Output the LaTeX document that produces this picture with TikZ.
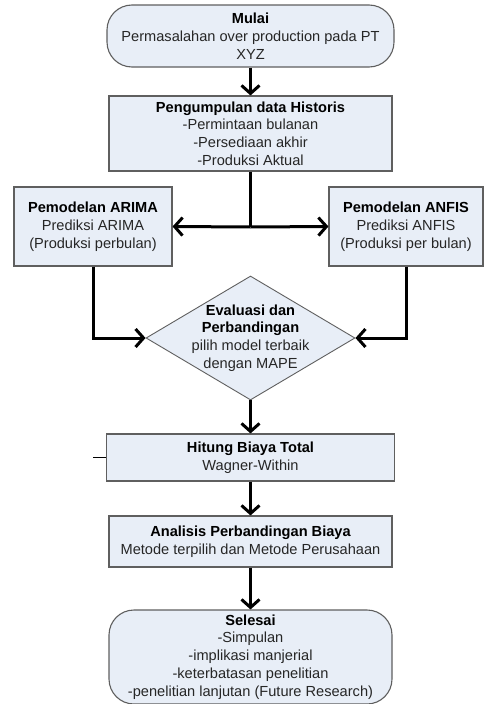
\documentclass[tikz,border=0pt]{standalone}
\usepackage{fontspec}
\setmainfont{Liberation Sans}
\usetikzlibrary{arrows.meta,shapes.geometric}
\definecolor{boxfill}{RGB}{232,238,247}
\definecolor{boxline}{RGB}{95,95,95}
\definecolor{bodytext}{RGB}{38,38,38}
\begin{document}
\begin{tikzpicture}[x=1pt,y=-1pt,
  font=\fontsize{14.6pt}{17.8pt}\selectfont,
  box/.style={draw=boxline,line width=1.1pt,fill=boxfill,rectangle,inner sep=0pt,align=center,text=bodytext},
  roundbox/.style={box,rounded corners=25pt},
  dia/.style={draw=boxline,line width=0.9pt,fill=boxfill,diamond,inner sep=0pt},
  conn/.style={line width=3pt,black},
  arr/.style={conn,-{Straight Barb[length=8pt,width=18pt]}},
]
\useasboundingbox (0,0) rectangle (484,704);

\node[roundbox,minimum width=287pt,minimum height=62pt] (mulai) at (250.5,36)
  {\textbf{\color{black}Mulai}\\Permasalahan over production pada PT\\XYZ};
\node[box,minimum width=283pt,minimum height=75pt] (peng) at (250.5,133.5)
  {\textbf{\color{black}Pengumpulan data Historis}\\-Permintaan bulanan\\-Persediaan akhir\\-Produksi Aktual};
\node[box,minimum width=158pt,minimum height=79pt] (arima) at (93,226.5)
  {\textbf{\color{black}Pemodelan ARIMA}\\Prediksi ARIMA\\(Produksi perbulan)};
\node[box,minimum width=154pt,minimum height=79pt] (anfis) at (406,226.5)
  {\textbf{\color{black}Pemodelan ANFIS}\\Prediksi ANFIS\\(Produksi per bulan)};
\node[dia,minimum width=209pt,minimum height=124pt] (eval) at (250.5,338) {};
\node[align=center,text=bodytext,inner sep=0pt] (evaltext) at (250.5,338)
  {\textbf{\color{black}Evaluasi dan}\\\textbf{\color{black}Perbandingan}\\pilih model terbaik\\dengan MAPE};
\node[box,minimum width=288pt,minimum height=47pt] (hitung) at (250.5,457.5)
  {\textbf{\color{black}Hitung Biaya Total}\\Wagner-Within};
\node[box,minimum width=283pt,minimum height=51pt] (analisis) at (250.5,541.5)
  {\textbf{\color{black}Analisis Perbandingan Biaya}\\Metode terpilih dan Metode Perusahaan};
\node[roundbox,minimum width=283pt,minimum height=94pt] (selesai) at (250.5,657)
  {\textbf{\color{black}Selesai}\\-Simpulan\\-implikasi manjerial\\-keterbatasan penelitian\\-penelitian lanjutan (Future Research)};

\coordinate (split) at (250.5,227);
\coordinate (stub) at (93,457.5);

\draw[arr] (mulai.south) -- (peng.north);
\draw[conn] (peng.south) -- (split);
\draw[arr] (split) -- (arima.east);
\draw[arr] (split) -- (anfis.west);
\draw[arr] (arima.south) |- (eval.west);
\draw[arr] (anfis.south) |- (eval.east);
\draw[arr] (eval.south) -- (hitung.north);
\draw[line width=1pt,black] (stub) -- (hitung.west);
\draw[arr] (hitung.south) -- (analisis.north);
\draw[arr] (analisis.south) -- (selesai.north);
\end{tikzpicture}
\end{document}
